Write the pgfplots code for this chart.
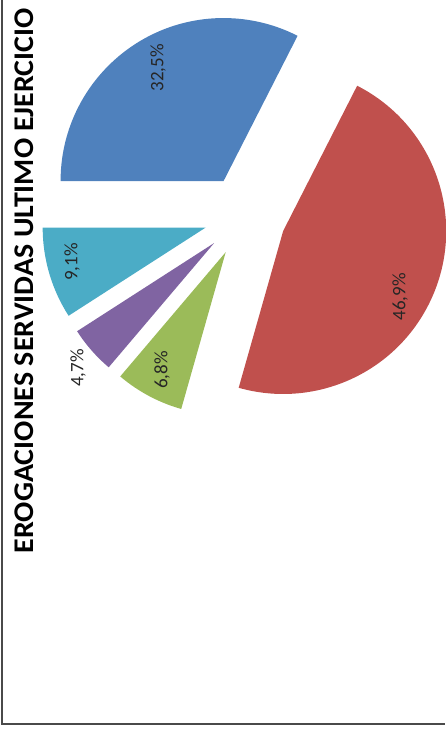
\documentclass[border=0pt]{standalone}
\usepackage{pgfplots}
\usepackage{pgfplotstable}
\pgfplotsset{compat=1.18}
\usepackage{fontspec}
\setmainfont{Carlito}
\definecolor{pieblue}{HTML}{4F81BD}
\definecolor{piered}{HTML}{C0504D}
\definecolor{piegreen}{HTML}{9BBB59}
\definecolor{piepurple}{HTML}{8064A2}
\definecolor{piecyan}{HTML}{4BACC6}
\definecolor{framegray}{HTML}{4A4A4A}

% share (%), colour, label text, label position (image px)
\pgfplotstableread{
value col lab lx ly
32.5 pieblue   32,5 158 68
46.9 piered    46,9 400 297
6.8  piegreen  6,8  162 370
4.7  piepurple 4,7  78  368
9.1  piecyan   9,1  72  262
}\piedata

\begin{document}
\begin{tikzpicture}
\useasboundingbox (0,0) rectangle (445pt,731pt);
\begin{axis}[
  at={(0,0)}, anchor=south west,
  scale only axis, width=445pt, height=731pt,
  xmin=0, xmax=445, ymin=0, ymax=731, y dir=reverse,
  hide axis, clip=false,
]
\xdef\curang{180}
\foreach \i in {0,...,4} {
  \pgfplotstablegetelem{\i}{value}\of\piedata \let\val\pgfplotsretval
  \pgfplotstablegetelem{\i}{col}\of\piedata \let\col\pgfplotsretval
  \pgfplotstablegetelem{\i}{lab}\of\piedata \let\lab\pgfplotsretval
  \pgfplotstablegetelem{\i}{lx}\of\piedata \let\lx\pgfplotsretval
  \pgfplotstablegetelem{\i}{ly}\of\piedata \let\ly\pgfplotsretval
  \pgfmathsetmacro\endang{\curang-3.6*\val}
  \pgfmathsetmacro\midang{(\curang+\endang)/2}
  \pgfmathsetmacro\ax{245+41*cos(\midang)}
  \pgfmathsetmacro\ay{216-41*sin(\midang)}
  \edef\tmp{\noexpand\fill[\col] (axis cs:\ax,\ay) -- ++(\curang:163pt)
     arc[start angle=\curang, end angle=\endang, radius=163pt] -- cycle;
     \noexpand\node[rotate=90, font=\noexpand\fontsize{19}{22}\noexpand\selectfont, text=black!85]
       at (axis cs:\lx,\ly) {\lab\noexpand\%};}
  \tmp
  \xdef\curang{\endang}
}
\node[rotate=90, xscale=1.05, anchor=base west, font=\fontsize{28.5}{31}\selectfont\bfseries]
  at (axis cs:33,557) {EROGACIONES SERVIDAS ULTIMO EJERCICIO};
\draw[framegray, line width=2pt] (axis cs:1.5,0) -- (axis cs:1.5,723.5) -- (axis cs:445,723.5);
\end{axis}
\end{tikzpicture}
\end{document}
